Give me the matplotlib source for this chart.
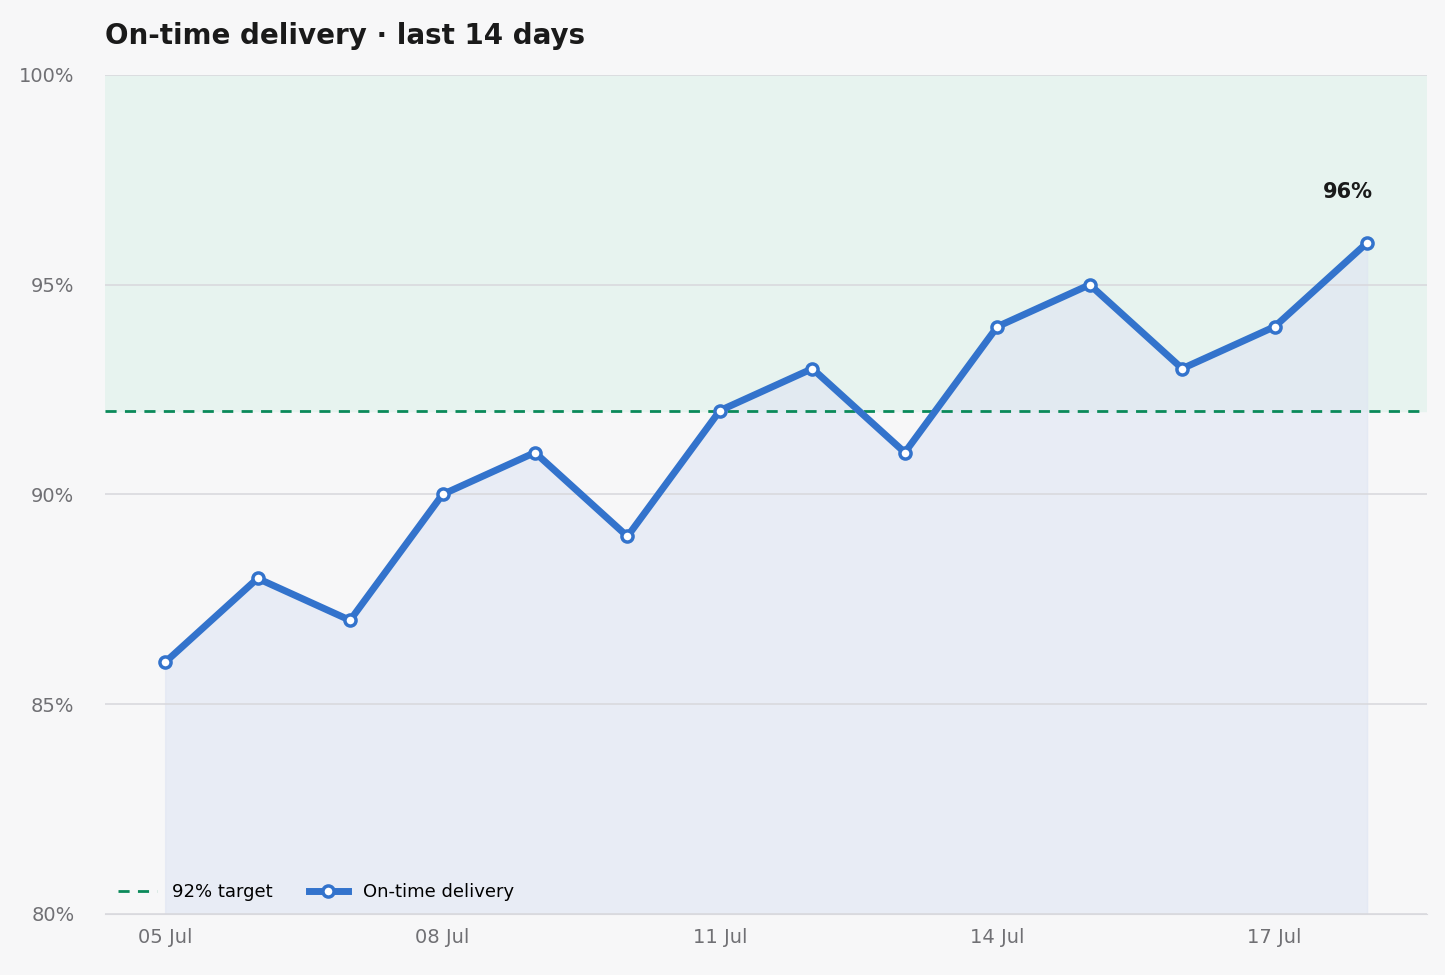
import matplotlib.pyplot as plt
import numpy as np

days = ['05 Jul', '06 Jul', '07 Jul', '08 Jul', '09 Jul', '10 Jul', '11 Jul',
        '12 Jul', '13 Jul', '14 Jul', '15 Jul', '16 Jul', '17 Jul', '18 Jul']
ontime = [86, 88, 87, 90, 91, 89, 92, 93, 91, 94, 95, 93, 94, 96]
target = 92

bg = '#f7f7f8'
fig = plt.figure(figsize=(14.45, 9.75), dpi=100, facecolor=bg)
ax = fig.add_axes([0.0727, 0.0626, 0.915, 0.8605], facecolor=bg)

x = np.arange(len(days))
ax.axhspan(target, 100, color='#e7f3ef', zorder=0)
ax.fill_between(x, ontime, 80, color='#dfe5f3', alpha=0.6, zorder=1)
ax.axhline(target, color='#0b8a5a', lw=2, ls=(0, (4, 3)), zorder=3, label='92% target')
ax.plot(x, ontime, color='#3373cc', lw=5, marker='o', ms=8, mfc='white',
        mec='#3373cc', mew=2.5, zorder=4, label='On-time delivery')
ax.annotate('{}%'.format(ontime[-1]), (x[-1], ontime[-1]), xytext=(-14, 32),
            textcoords='offset points', ha='center', fontsize=15,
            fontweight='bold', color='#1a1a1a')

ax.set_xlim(-0.65, 13.65)
ax.set_ylim(80, 100)
ax.set_yticks([80, 85, 90, 95, 100])
ax.set_yticklabels(['{}%'.format(v) for v in [80, 85, 90, 95, 100]])
ax.set_xticks(x[::3])
ax.set_xticklabels(days[::3])
ax.grid(axis='y', color='#d9d9de', lw=1.2, zorder=0)
for s in ['top', 'right', 'left']:
    ax.spines[s].set_visible(False)
ax.spines['bottom'].set_color('#d9d9de')
ax.tick_params(length=0, labelsize=14, labelcolor='#707074', pad=10)
ax.tick_params(axis='y', pad=22)

ax.legend(loc='lower left', ncol=2, frameon=False, fontsize=13,
          handlelength=2.2, columnspacing=2, borderaxespad=0.3)
fig.text(0.0727, 0.955, 'On-time delivery · last 14 days', fontsize=20,
         fontweight='bold', color='#1a1a1a')
fig.savefig('out.png', facecolor=bg)
